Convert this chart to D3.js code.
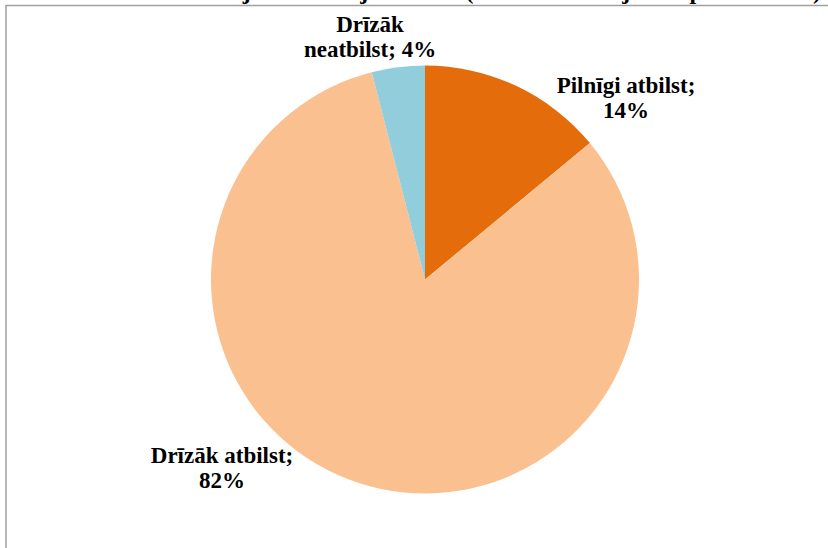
<!DOCTYPE html>
<html>
<head>
<meta charset="utf-8">
<script src="https://cdn.jsdelivr.net/npm/d3@7"></script>
<style>
  html, body { margin: 0; padding: 0; background: #fff; }
  svg { display: block; }
</style>
</head>
<body>
<script>
// Survey answers, share of respondents (%)
const categories = ["Pilnīgi atbilst", "Drīzāk atbilst", "Drīzāk neatbilst"];
const values = [14, 82, 4];
const labelLines = [["Pilnīgi atbilst;", "14%"], ["Drīzāk atbilst;", "82%"], ["Drīzāk", "neatbilst; 4%"]];
const colors = ["#E46C0A", "#FAC090", "#92CDDC"];
const title = "Zināšanu atbilstība jūsu darba jomai šeit (atbildes no šīs jomas profesoriem)";

const W = 828, H = 548;
const FONT = "Liberation Serif";
const svg = d3.select("body").append("svg").attr("width", W).attr("height", H);

// Title sits above the chart frame and is cut by the page top
svg.append("text")
  .attr("x", 821).attr("y", -1)
  .attr("text-anchor", "end")
  .attr("font-family", FONT)
  .attr("font-weight", "bold")
  .attr("font-size", 24)
  .text(title);

// Chart frame (top and left edges are on the page)
svg.append("path")
  .attr("d", `M6,${H} V5.5 H${W}`)
  .attr("fill", "none")
  .attr("stroke", "#a0a0a0")
  .attr("stroke-width", 1.5);

const cx = 425, cy = 279.5, r = 214;
const pie = d3.pie().sort(null).value(d => d)(values);
const arc = d3.arc().innerRadius(0).outerRadius(r);

const g = svg.append("g").attr("transform", `translate(${cx},${cy})`);
g.selectAll("path.slice")
  .data(pie)
  .join("path")
  .attr("class", "slice")
  .attr("d", arc)
  .attr("fill", (d, i) => colors[i]);

// Data labels placed outside the pie
const labelPos = [[626, 93], [222, 463], [370, 32]];
const lineH = 24.5;
labelLines.forEach((lines, i) => {
  const t = svg.append("text")
    .attr("text-anchor", "middle")
    .attr("font-family", FONT)
    .attr("font-weight", "bold")
    .attr("font-size", 23)
    .attr("fill", "#000");
  lines.forEach((s, k) => {
    t.append("tspan")
      .attr("x", labelPos[i][0])
      .attr("y", labelPos[i][1] + k * lineH)
      .text(s);
  });
});
</script>
</body>
</html>
